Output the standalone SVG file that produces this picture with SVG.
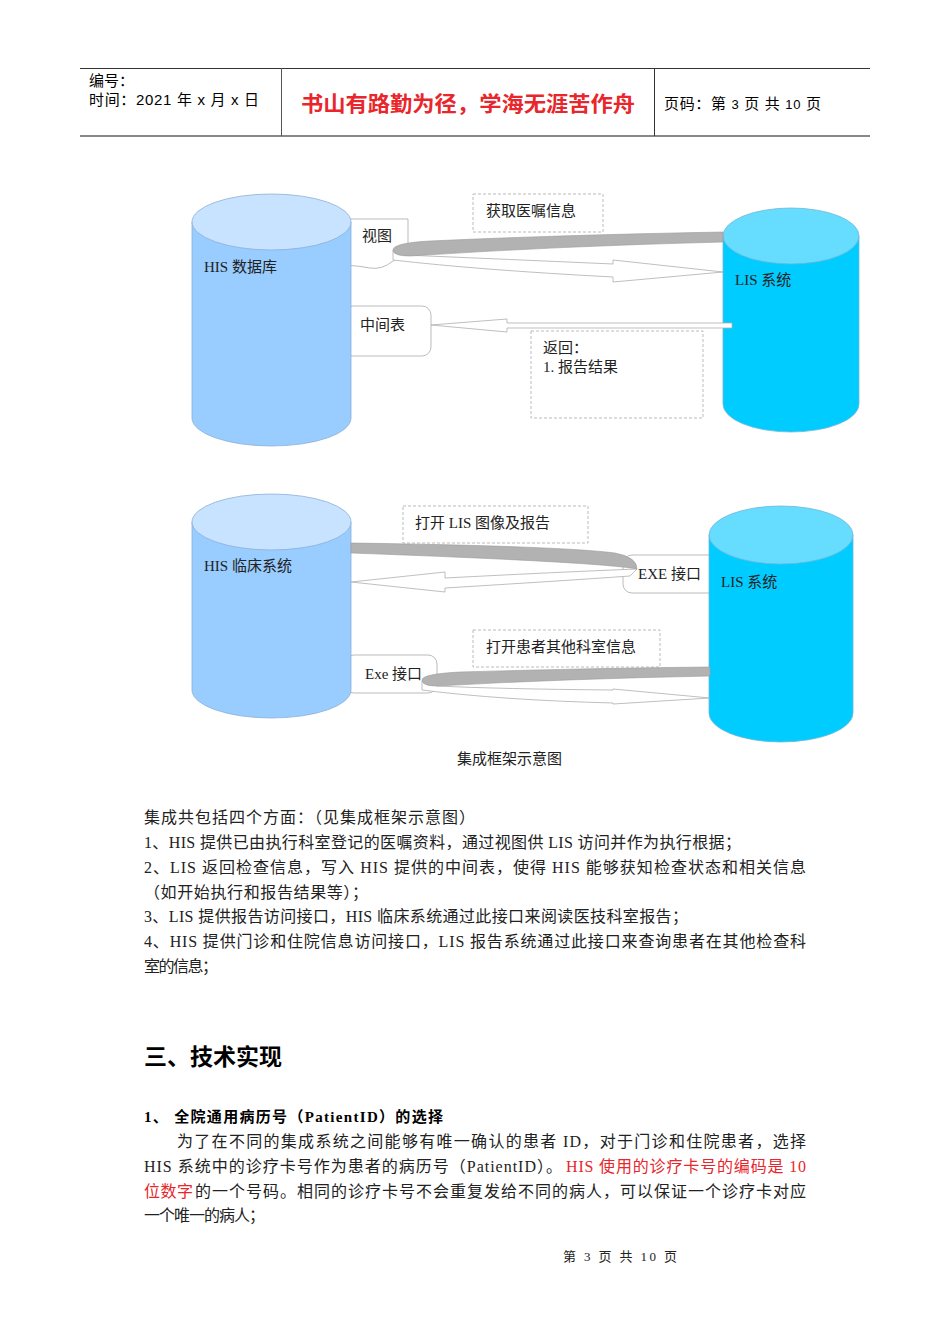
<svg xmlns="http://www.w3.org/2000/svg" width="950" height="1344" viewBox="0 0 950 1344">
<style>
.sans{font-family:"Liberation Sans","Noto Sans CJK SC",sans-serif;fill:#000}
.serif{font-family:"Liberation Serif","Noto Sans CJK SC",serif;fill:#222}
.lbl{font-size:15px}
.body{font-size:16px}
.red{fill:#E8262B}
.dash{fill:#fff;stroke:#AAAAAA;stroke-width:0.8;stroke-dasharray:3 2}
.call{fill:#fff;stroke:#AAAAAA;stroke-width:0.8}
.hisBody{fill:#99CCFF;stroke:#8AAFD8;stroke-width:0.8}
.hisTop{fill:#C7E3FF;stroke:#8AAFD8;stroke-width:0.8}
.lisBody{fill:#00CCFF;stroke:#6FB6D8;stroke-width:0.8}
.lisTop{fill:#66DDFF;stroke:#6FB6D8;stroke-width:0.8}
.band{fill:#B2B2B2;stroke:#9A9A9A;stroke-width:0.6}
.hollow{fill:#fff;stroke:#AFAFAF;stroke-width:0.8}
</style>

<g id="header">
<line x1="80" y1="68.5" x2="870" y2="68.5" stroke="#333" stroke-width="1"/>
<line x1="80" y1="136" x2="870" y2="136" stroke="#888" stroke-width="2"/>
<line x1="281.5" y1="68" x2="281.5" y2="136" stroke="#555" stroke-width="1"/>
<line x1="654.5" y1="68" x2="654.5" y2="136" stroke="#333" stroke-width="1"/>
<text class="sans" x="89" y="86" font-size="15">编号：</text>
<text class="sans" x="89" y="105" font-size="15" textLength="170" lengthAdjust="spacing">时间：2021 年 x 月 x 日</text>
<text class="sans red" x="301" y="111" font-size="21" font-weight="bold" textLength="334" lengthAdjust="spacingAndGlyphs">书山有路勤为径，学海无涯苦作舟</text>
<text class="sans" x="664" y="109" font-size="15" textLength="157" lengthAdjust="spacing">页码：第 <tspan font-size="13">3</tspan> 页  共 <tspan font-size="13">10</tspan> 页</text>
</g>

<!-- callout boxes (behind cylinders) -->
<g id="view-label">
<path class="call" d="M345,219 H408 V252 L393,261 Q382,270 370,268 Q360,266 345,265 Z"/>
<text class="serif lbl" x="362" y="241">视图</text>
</g>
<g id="mid-table">
<rect class="call" x="344" y="306" width="87" height="50" rx="9"/>
<text class="serif lbl" x="360" y="330">中间表</text>
</g>
<g id="exe-right">
<rect class="call" x="623" y="555" width="95" height="38" rx="9"/>
<text class="serif lbl" x="638" y="579">EXE 接口</text>
</g>
<g id="exe-left">
<rect class="call" x="345" y="655" width="92" height="38" rx="9"/>
<text class="serif lbl" x="365" y="679">Exe 接口</text>
</g>

<!-- cylinders -->
<g id="his-db">
<path class="hisBody" d="M192,222 V418 A79.5,28 0 0 0 351,418 V222 Z"/>
<ellipse class="hisTop" cx="271.5" cy="222" rx="79.5" ry="28"/>
<text class="serif lbl" x="204" y="272">HIS 数据库</text>
</g>
<g id="lis-1">
<path class="lisBody" d="M723,236 V404 A68,28 0 0 0 859,404 V236 Z"/>
<ellipse class="lisTop" cx="791" cy="236" rx="68" ry="28"/>
<text class="serif lbl" x="735" y="285">LIS 系统</text>
</g>
<g id="his-clinic">
<path class="hisBody" d="M192,522 V690 A79.5,28 0 0 0 351,690 V522 Z"/>
<ellipse class="hisTop" cx="271.5" cy="522" rx="79.5" ry="28"/>
<text class="serif lbl" x="204" y="571">HIS 临床系统</text>
</g>
<g id="lis-2">
<path class="lisBody" d="M709,535 V713 A72,29 0 0 0 853,713 V535 Z"/>
<ellipse class="lisTop" cx="781" cy="535" rx="72" ry="29"/>
<text class="serif lbl" x="721" y="587">LIS 系统</text>
</g>

<!-- dashed label boxes -->
<g id="label-get-orders">
<rect class="dash" x="473" y="194" width="130" height="38"/>
<text class="serif lbl" x="486" y="216">获取医嘱信息</text>
</g>
<g id="label-return">
<rect class="dash" x="531" y="331" width="172" height="87"/>
<text class="serif lbl" x="543" y="353">返回：</text>
<text class="serif lbl" x="543" y="372">1. 报告结果</text>
</g>
<g id="label-open-lis">
<rect class="dash" x="403" y="506" width="185" height="37"/>
<text class="serif lbl" x="415" y="528">打开 LIS 图像及报告</text>
</g>
<g id="label-open-patient">
<rect class="dash" x="473" y="630" width="187" height="37"/>
<text class="serif lbl" x="486" y="652">打开患者其他科室信息</text>
</g>

<!-- connectors -->
<g id="connectors">
<!-- view -> LIS -->
<path class="hollow" d="M393,250 V260 Q480,270 613,277 V282 L723,272 L613,260 V264 Q500,259 404,255 Z"/>
<path class="band" d="M393,250 Q393,243 430,241 Q560,235 723,232 V242 Q560,246 410,256 Q393,256 393,250 Z"/>
<!-- LIS -> middle table -->
<path class="hollow" d="M732,323 H507 V319 L431,325 L507,332 V328 H732 Z"/>
<!-- clinic -> EXE (band) and EXE -> clinic (hollow arrow) -->
<path class="hollow" d="M637,569 Q560,572 445,578 V572 L351,582 L445,592 V588 Q560,581 630,576 Z"/>
<path class="band" d="M351,543 Q560,546 615,553 Q637,557 637,569 Q600,562 351,553 Z"/>
<!-- Exe left -> LIS -->
<path class="hollow" d="M422,681 V690 Q500,700 613,703 V704 L710,698 L613,689 V690 Q500,689 437,686 Z"/>
<path class="band" d="M422,680 Q422,674 460,672 Q600,668 710,667 V676 Q560,679 437,686 Q422,686 422,680 Z"/>
</g>

<text class="serif lbl" x="457" y="764">集成框架示意图</text>

<g id="body-text">
<text class="serif body" x="144" y="823" textLength="331" lengthAdjust="spacing">集成共包括四个方面：（见集成框架示意图）</text>
<text class="serif body" x="144" y="848" textLength="597" lengthAdjust="spacing">1、HIS 提供已由执行科室登记的医嘱资料，通过视图供 LIS 访问并作为执行根据；</text>
<text class="serif body" x="144" y="873" textLength="662" lengthAdjust="spacing">2、LIS 返回检查信息，写入 HIS 提供的中间表，使得 HIS 能够获知检查状态和相关信息</text>
<text class="serif body" x="144" y="898" textLength="224" lengthAdjust="spacing">（如开始执行和报告结果等）；</text>
<text class="serif body" x="144" y="922" textLength="544" lengthAdjust="spacing">3、LIS 提供报告访问接口，HIS 临床系统通过此接口来阅读医技科室报告；</text>
<text class="serif body" x="144" y="947" textLength="662" lengthAdjust="spacing">4、HIS 提供门诊和住院信息访问接口，LIS 报告系统通过此接口来查询患者在其他检查科</text>
<text class="serif body" x="144" y="972" textLength="74" lengthAdjust="spacing">室的信息；</text>

<text class="serif" x="144" y="1065" font-size="23" font-weight="bold" style="fill:#000">三、技术实现</text>
<text class="serif" x="144" y="1122" font-size="15" font-weight="bold" style="fill:#000" textLength="299" lengthAdjust="spacing">1、 全院通用病历号（PatientID）的选择</text>

<text class="serif body" x="177" y="1147" textLength="629" lengthAdjust="spacing">为了在不同的集成系统之间能够有唯一确认的患者 ID，对于门诊和住院患者，选择</text>
<text class="serif body" x="144" y="1172" textLength="418" lengthAdjust="spacing">HIS 系统中的诊疗卡号作为患者的病历号（PatientID）。</text>
<text class="serif body red" x="566" y="1172" textLength="240" lengthAdjust="spacing">HIS 使用的诊疗卡号的编码是 10</text>
<text class="serif body red" x="144" y="1197" textLength="49" lengthAdjust="spacing">位数字</text>
<text class="serif body" x="195" y="1197" textLength="611" lengthAdjust="spacing">的一个号码。相同的诊疗卡号不会重复发给不同的病人，可以保证一个诊疗卡对应</text>
<text class="serif body" x="144" y="1221" textLength="121" lengthAdjust="spacing">一个唯一的病人；</text>

<text class="serif" x="563" y="1261" font-size="13" textLength="114" lengthAdjust="spacing">第 3 页 共 10 页</text>
</g>
</svg>
